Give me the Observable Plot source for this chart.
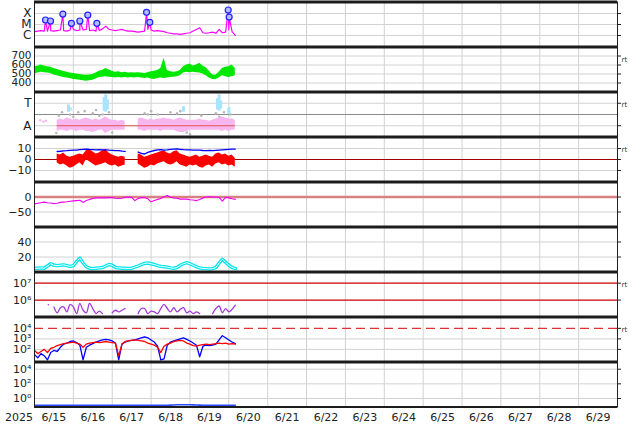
<!DOCTYPE html>
<html><head><meta charset="utf-8">
<script src="https://cdn.jsdelivr.net/npm/d3@7"></script>
<script src="https://cdn.jsdelivr.net/npm/@observablehq/plot@0.6"></script>
<style>
html,body{margin:0;padding:0;background:#fff;}
#chart{position:relative;width:634px;height:424px;overflow:hidden;background:#fff;font-family:"DejaVu Sans",sans-serif;}
</style></head><body><div id="chart"></div>
<script>
// ---------- DATA (hours after 2025-06-15 00:00 UTC, 2-hour samples) ----------
const hours = [0,2,4,6,8,10,12,14,16,18,20,22,24,26,28,30,32,34,36,38,40,42,44,46,48,50,52,54,56,58,60,62,64,66,68,70,72,74,76,78,80,82,84,86,88,90,92,94,96,98,100,102,104,106,108,110,112,114,116,118,120,122,124];

// Panel 1: X-ray flux, log10(W/m2)
const xrayLog = [-5.65,-5.6,-5.55,-5.6,-5.6,-5.55,-5.6,-5.55,-5.5,-5.55,
 -5.6,-5.5,-5.45,-5.55,-5.5,-5.5,-5.45,-5.55,-5.5,-5.6,
 -5.55,-5.4,-5.15,-5.45,-5.5,-5.55,-5.5,-5.45,-5.55,-5.6,
 -5.6,-5.65,-5.7,-5.65,-5.6,-5.45,-5.5,-5.6,-5.55,-5.6,
 -5.65,-5.75,-5.8,-5.85,-5.85,-5.9,-5.85,-5.8,-5.75,-5.6,
 -5.45,-5.3,-5.75,-5.8,-5.75,-5.7,-5.8,-5.45,-5.75,-5.7,
 -5.5,-5.65,-6.0];
const flareHours = [6.8,9.9,17.5,22.8,28.0,32.9,38.5,69.2,71.2,119.6,120.2];
const flareLog = [-4.59,-4.68,-4.05,-4.89,-4.68,-4.14,-4.89,-3.89,-4.8,-3.68,-4.32];
const xrayTicks = ["C","M","X"];

// Panel 2: solar wind speed band (km/s)
const speedLo = [500,510,520,515,510,505,490,480,470,460,
 455,450,440,435,430,425,420,425,430,445,
 460,465,470,465,460,455,460,455,460,455,
 460,455,460,455,450,455,445,440,450,455,
 450,455,460,465,470,480,510,520,515,520,
 515,510,500,480,455,440,435,455,480,470,
 460,470,480];
const speedHi = [580,585,600,590,580,575,560,550,540,530,
 520,510,505,500,495,490,485,490,495,510,
 530,540,560,545,530,520,525,515,520,510,
 515,510,515,510,505,515,525,530,540,560,
 675,540,525,520,525,540,580,600,610,590,
 600,620,590,570,530,490,485,520,560,575,
 580,600,560];

// Panel 3: A / T levels
const pinkLo = [null,null,null,null,null,null,null,0.5,0.6,0.6,
 0.5,0.6,0.6,0.5,0.6,0.6,0.5,0.5,0.4,0.5,
 0.6,0.6,0.3,0.5,0.6,0.6,0.6,0.6,0.6,null,
 null,null,0.6,0.6,0.5,0.6,0.6,0.6,0.6,0.5,
 0.6,0.6,0.6,0.6,0.5,0.4,0.4,0.5,0.6,0.6,
 0.6,0.6,0.6,0.6,0.6,0.6,0.6,0.6,0.5,0.6,
 0.5,0.6,0.6];
const pinkHi = [null,null,null,null,null,null,null,1.5,1.6,1.5,
 1.7,1.6,1.5,1.6,1.5,1.6,1.7,1.6,1.5,1.6,
 1.5,1.6,1.8,1.6,1.5,1.5,1.4,1.5,1.4,null,
 null,null,1.6,1.7,1.6,1.5,1.6,1.5,1.6,1.6,
 1.7,1.6,1.6,1.5,1.6,1.7,1.6,1.5,1.5,1.5,
 1.5,1.6,1.5,1.5,1.4,1.5,1.6,1.7,1.8,1.7,
 1.6,1.6,1.5];
const pinkDotH = [3.5,5.5,7.0];
const pinkDotV = [1.5,1.35,1.45];
const grayH = [13.5,15,17,22,24,27,31,36,38,40,42,46,48,68,70,72,76,84,88,90,94,96,103,112,114,117,121];
const grayV = [0.35,1.9,2.2,2.0,1.8,2.2,2.3,2.1,2.4,1.9,2.0,2.2,0.4,2.1,2.0,2.3,2.0,2.2,2.1,2.3,0.4,0.25,1.9,2.1,1.8,2.2,2.0];
const spikeH = [21,22,43,44,45,92,113,114,115,120];
const spikeLo = [2.2,2.3,2.3,2.2,2.4,2.2,2.4,2.3,2.5,2.0];
const spikeHi = [2.85,2.6,3.5,3.75,3.3,2.7,3.4,3.75,3.2,2.6];
const levelTicks = ["A","T"];

// Panel 4: Bt (blue) and Bz band (red), nT
const bt = [null,null,null,null,null,null,null,7.3,7.5,7.8,
 8.0,8.3,8.5,8.6,9.0,9.3,9.5,9.2,9.0,8.8,
 9.0,8.7,8.8,8.5,8.3,8.0,8.0,7.6,7.4,null,
 null,null,6.8,5.5,5.0,6.5,7.5,8.2,8.8,9.0,
 8.5,8.8,9.2,9.5,9.6,9.3,9.0,8.8,8.8,8.6,
 8.5,8.5,8.2,8.0,8.2,8.0,8.4,8.6,8.8,9.0,
 9.2,9.4,9.5];
const bzLo = [null,null,null,null,null,null,null,-3,-5,-4,
 -6,-8,-7,-5,-3,-6,0,-2,-4,-6,
 -5,-4,-3,-5,-6,-5,-7,-6,-5,null,
 null,null,-4,-6,-8,-7,-5,-6,-4,-3,
 -2,-4,-5,-4,-2,-5,-6,-7,-5,-6,
 -5,-7,-8,-6,-5,-7,-4,-3,-5,-4,
 -6,-5,-7];
const bzHi = [null,null,null,null,null,null,null,5,4,6,
 3,2,3,4,5,4,8,9,7,5,
 6,8,9,6,4,3,2,3,2,null,
 null,null,5,4,2,3,4,5,6,7,
 8,6,5,7,8,5,4,3,2,3,
 4,2,3,4,3,2,5,6,4,5,
 3,4,1];

// Panel 5: index (nT)
const dst = [-23,-21,-19,-17,-19,-20,-22,-21,-18,-17,
 -16,-14,-13,-12,-11,-18,-12,-8,-5,-3,
 -3,-3,-3,-2,-2,-4,-5,-4,-1,0,
 -1,-12,-5,-2,-2,-6,-16,-12,-8,-5,
 1,5,-1,-3,-4,-7,-7,-7,-9,-10,
 -12,-8,-3,0,1,0,-1,-1,-14,-1,
 -3,-6,-8];

// Panel 6: density
const dens = [5,5,5.5,5,8,11,9,8.5,9,9.5,
 8.5,7.5,8.5,14,18.5,12,7,5,4.5,5,
 5.5,6,8,10,9,6,5.5,5,5,4.5,
 5,6.5,8,10,11.5,12,11,10,8.5,7.5,
 7,6.5,5.5,5,6,9,11,12.5,11,9,
 7,5.5,4.5,4.5,4,4.5,6,12,17,13,
 9,6,4.5];

// Panel 7: electron flux, log10
const purpleLog = [null,null,null,null,null,null,5.6,5.25,5.55,5.6,
 5.3,5.75,5.6,5.2,5.8,5.4,5.25,5.8,5.5,5.2,
 5.35,5.2,null,null,5.25,5.4,5.3,5.4,5.5,null,
 null,null,5.2,5.5,5.5,5.2,5.35,5.3,5.2,5.5,
 5.75,5.5,5.3,5.55,5.3,5.45,5.55,5.25,5.35,5.2,
 5.3,5.2,null,null,null,5.2,5.5,5.65,5.25,5.5,
 5.3,5.45,5.7];
const purpleDotH = [8.6];
const purpleDotLog = [5.72];

// Panel 8: two flux series, log10
const fluxRedLog = [1.9,1.6,1.8,2.0,1.7,2.1,2.2,2.35,2.45,2.55,
 2.6,2.65,2.7,2.6,2.5,2.2,2.5,2.6,2.65,2.7,
 2.65,2.7,2.75,2.7,2.65,2.6,1.4,2.5,2.75,2.8,
 2.85,2.9,2.85,2.8,2.75,2.6,2.5,2.4,2.2,1.7,
 2.3,2.5,2.6,2.75,2.8,2.85,2.8,2.6,2.5,2.35,
 2.3,2.4,2.45,2.5,2.45,2.5,2.55,2.6,2.55,2.6,
 2.5,2.55,2.5];
const fluxBlueLog = [1.5,1.2,1.6,1.4,1.0,1.7,1.9,1.8,2.2,2.5,
 2.6,2.75,2.8,2.65,2.4,1.0,2.2,2.4,2.55,2.7,
 2.8,2.9,2.95,2.9,2.8,2.6,1.0,2.5,2.7,2.8,
 2.85,2.9,3.0,3.1,3.2,3.1,2.9,2.7,2.3,1.0,
 1.1,2.4,2.7,2.8,2.9,3.0,3.1,2.95,2.8,2.6,
 2.4,1.3,2.3,2.4,2.35,2.4,2.5,2.9,3.3,3.1,
 2.9,2.7,2.55];

// Panel 9: proton flux, log10
const lowFluxLog = [-0.93,-0.92,-0.93,-0.94,-0.93,-0.92,-0.93,-0.93,-0.92,-0.93,
 -0.94,-0.93,-0.92,-0.93,-0.93,-0.92,-0.93,-0.94,-0.93,-0.92,
 -0.93,-0.93,-0.92,-0.93,-0.94,-0.93,-0.92,-0.93,-0.93,-0.92,
 -0.93,-0.94,-0.93,-0.92,-0.93,-0.93,-0.92,-0.93,-0.94,-0.93,
 -0.92,-0.93,-0.9,-0.88,-0.86,-0.85,-0.86,-0.85,-0.86,-0.87,
 -0.88,-0.9,-0.92,-0.93,-0.92,-0.93,-0.93,-0.92,-0.93,-0.94,
 -0.93,-0.92,-0.93];

const yearLabel = "2025";
const dateFormat = "%-m/%-d";

// ---------- BUILD ----------
const t0 = Date.UTC(2025, 5, 15);
const toDate = h => new Date(t0 + h * 3600000);
const xDomain = [new Date(Date.UTC(2025, 5, 15)), new Date(Date.UTC(2025, 5, 30))];
const dayLines = d3.utcDay.range(new Date(Date.UTC(2025, 5, 16)), new Date(Date.UTC(2025, 5, 30)));
const noons = d3.utcDay.range(new Date(Date.UTC(2025, 5, 15)), new Date(Date.UTC(2025, 5, 30))).map(d => d3.utcHour.offset(d, 12));
const GRID = "#d2d2d2";
const sup = {"-1":"⁻¹","0":"⁰","1":"¹","2":"²","3":"³","4":"⁴","5":"⁵","6":"⁶","7":"⁷"};
const pow10 = d => "10" + sup[Math.round(Math.log10(d))];
const signed = d => d < 0 ? "\u2212" + Math.abs(d) : String(d);
const series = (vals) => hours.map((h, i) => ({t: toDate(h), v: vals[i] == null ? NaN : vals[i]}));
const band = (lo, hi) => hours.map((h, i) => ({t: toDate(h), lo: lo[i] == null ? NaN : lo[i], hi: hi[i] == null ? NaN : hi[i]}));
const logSeries = (vals) => hours.map((h, i) => ({t: toDate(h), v: vals[i] == null ? NaN : 10 ** vals[i]}));

const chart = document.getElementById("chart");

function makePanel(i, cfg) {
  const last = i === 8;
  const mt = 1.5, mb = last ? 18 : 0;
  const marks = [
    Plot.gridX(dayLines, {stroke: GRID, strokeOpacity: 1}),
    Plot.gridY(cfg.grid, {stroke: GRID, strokeOpacity: 1}),
    ...cfg.marks,
    Plot.axisY(cfg.ticks, {tickSize: 0, tickPadding: 3, tickFormat: cfg.fmt, fontSize: cfg.fontSize || 11, label: null}),
    Plot.axisY(cfg.ticks, {anchor: "right", tickSize: 3, tickFormat: () => "", label: null}),
    Plot.frame({stroke: "#222"}),
    Plot.ruleY([cfg.y.domain[1]], {stroke: "#1c1c1c", strokeWidth: 3})
  ];
  if (cfg.rt) marks.push(Plot.text(["rt"], {text: d => d, frameAnchor: "top-right", dx: 4, dy: 10, textAnchor: "start", fontSize: 7, fill: "#333"}));
  if (last) {
    marks.push(
      Plot.ruleY([cfg.y.domain[0]], {stroke: "#1c1c1c", strokeWidth: 2}),
      Plot.axisX(noons, {tickSize: 0, tickPadding: 6, tickFormat: d3.utcFormat(dateFormat), label: null, fontSize: 11}),
      Plot.text([yearLabel], {text: d => d, frameAnchor: "bottom-left", textAnchor: "middle", lineAnchor: "top", dx: -15.5, dy: 6, fontSize: 11, fill: "#222"})
    );
  }
  const svg = Plot.plot({
    width: 634, height: 45 + mt + mb,
    marginLeft: 34, marginRight: 17, marginTop: mt, marginBottom: mb,
    x: last ? {type: "utc", domain: xDomain, label: null} : {type: "utc", domain: xDomain, axis: null, label: null},
    y: {...cfg.y, label: null},
    style: {position: "absolute", left: "0px", top: (45 * i) + "px", overflow: "visible", background: "transparent", fontFamily: "DejaVu Sans", fontSize: "11px", color: "#222"},
    marks
  });
  chart.appendChild(svg);
}

// Panel 1
const flareRows = flareHours.map((h, i) => ({t: toDate(h), v: 10 ** flareLog[i]}));
const xrayRows = logSeries(xrayLog).concat(flareRows).sort((a, b) => a.t - b.t);
makePanel(0, {
  y: {type: "log", domain: [10 ** -7.05, 10 ** -2.95]},
  ticks: [1e-6, 1e-5, 1e-4], grid: [1e-6, 1e-5, 1e-4], fontSize: 12,
  fmt: d => xrayTicks[Math.round(Math.log10(d)) + 6],
  marks: [
    Plot.line(xrayRows, {x: "t", y: "v", stroke: "#ff00ff", strokeWidth: 1.2, clip: true}),
    Plot.dot(flareRows, {x: "t", y: "v", r: 3, stroke: "#2020ff", fill: "#b4bcff", strokeWidth: 1.2})
  ]
});

// Panel 2
makePanel(1, {
  y: {domain: [300, 800]}, ticks: [400, 500, 600, 700], grid: [400, 500, 600, 700], fmt: d => String(d), rt: true, fontSize: 10.5,
  marks: [Plot.areaY(band(speedLo, speedHi), {x: "t", y1: "lo", y2: "hi", fill: "#00e800", clip: true})]
});

// Panel 3
const pinkBand = band(pinkLo, pinkHi);
const defined = pinkBand.filter(d => !isNaN(d.lo));
makePanel(2, {
  y: {domain: [0, 4]}, ticks: [1, 3], grid: [1, 3], fontSize: 12,
  fmt: d => levelTicks[(d - 1) / 2], rt: true,
  marks: [
    Plot.ruleY([2], {stroke: "#8a8a8a"}),
    Plot.dot(grayH.map((h, i) => ({t: toDate(h), v: grayV[i]})), {x: "t", y: "v", r: 1.3, fill: "#b8b8b8"}),
    Plot.areaY(pinkBand, {x: "t", y1: "lo", y2: "hi", fill: "#f8b6f1", clip: true}),
    Plot.dot(pinkDotH.map((h, i) => ({t: toDate(h), v: pinkDotV[i]})), {x: "t", y: "v", r: 1.2, fill: "#f8b6f1"}),
    Plot.ruleX(spikeH.map((h, i) => ({t: toDate(h), lo: spikeLo[i], hi: spikeHi[i]})), {x: "t", y1: "lo", y2: "hi", stroke: "#a8e4ff", strokeWidth: 3}),
    Plot.ruleY([1], {x1: defined[0].t, x2: defined[defined.length - 1].t, stroke: "#e05555", strokeWidth: 1.2})
  ]
});

// Panel 4
makePanel(3, {
  y: {domain: [-20.5, 20.5]}, ticks: [10, 0, -10], grid: [10, -10], fmt: signed, rt: true,
  marks: [
    Plot.ruleY([0], {stroke: "#a00000", strokeWidth: 1.2}),
    Plot.areaY(band(bzLo, bzHi), {x: "t", y1: "lo", y2: "hi", fill: "#ff0000", clip: true}),
    Plot.line(series(bt), {x: "t", y: "v", stroke: "#0000ff", strokeWidth: 1.3, clip: true})
  ]
});

// Panel 5
makePanel(4, {
  y: {domain: [-100, 50]}, ticks: [0, -50], grid: [-50], fmt: signed,
  marks: [
    Plot.ruleY([0], {stroke: "#d98080", strokeWidth: 2.5}),
    Plot.line(series(dst), {x: "t", y: "v", stroke: "#ee00ee", strokeWidth: 1.1, clip: true})
  ]
});

// Panel 6
makePanel(5, {
  y: {domain: [0, 60]}, ticks: [20, 40], grid: [20, 40], fmt: d => String(d),
  marks: [
    Plot.line(series(dens), {x: "t", y: "v", stroke: "#00e6ee", strokeWidth: 3.4, clip: true}),
    Plot.line(series(dens), {x: "t", y: "v", stroke: "#ffffff", strokeWidth: 1, clip: true})
  ]
});

// Panel 7
makePanel(6, {
  y: {type: "log", domain: [1e5, 10 ** 7.66]}, ticks: [1e6, 1e7], grid: [], fmt: pow10, rt: true,
  marks: [
    Plot.ruleY([1e6, 1e7], {stroke: "#cc0000", strokeWidth: 1.2}),
    Plot.line(logSeries(purpleLog), {x: "t", y: "v", stroke: "#a43ad6", strokeWidth: 1.3, curve: "catmull-rom", clip: true}),
    Plot.dot(purpleDotH.map((h, i) => ({t: toDate(h), v: 10 ** purpleDotLog[i]})), {x: "t", y: "v", r: 0.8, fill: "#a43ad6"})
  ]
});

// Panel 8
makePanel(7, {
  y: {type: "log", domain: [10 ** 0.8, 10 ** 5.08]}, ticks: [1e2, 1e3, 1e4], grid: [1e2, 1e3], fmt: pow10, rt: true,
  marks: [
    Plot.ruleY([1e4], {stroke: "#e03030", strokeWidth: 1.3, strokeDasharray: "9,5"}),
    Plot.line(logSeries(fluxBlueLog), {x: "t", y: "v", stroke: "#0000ff", strokeWidth: 1.3, clip: true}),
    Plot.line(logSeries(fluxRedLog), {x: "t", y: "v", stroke: "#ff0000", strokeWidth: 1.3, clip: true})
  ]
});

// Panel 9
makePanel(8, {
  y: {type: "log", domain: [10 ** -1.16, 10 ** 4.98]}, ticks: [1, 1e2, 1e4], grid: [1, 1e2, 1e4], fmt: pow10,
  marks: [
    Plot.line(logSeries(lowFluxLog), {x: "t", y: "v", stroke: "#2a4cff", strokeWidth: 1.6, clip: true})
  ]
});
</script></body></html>
